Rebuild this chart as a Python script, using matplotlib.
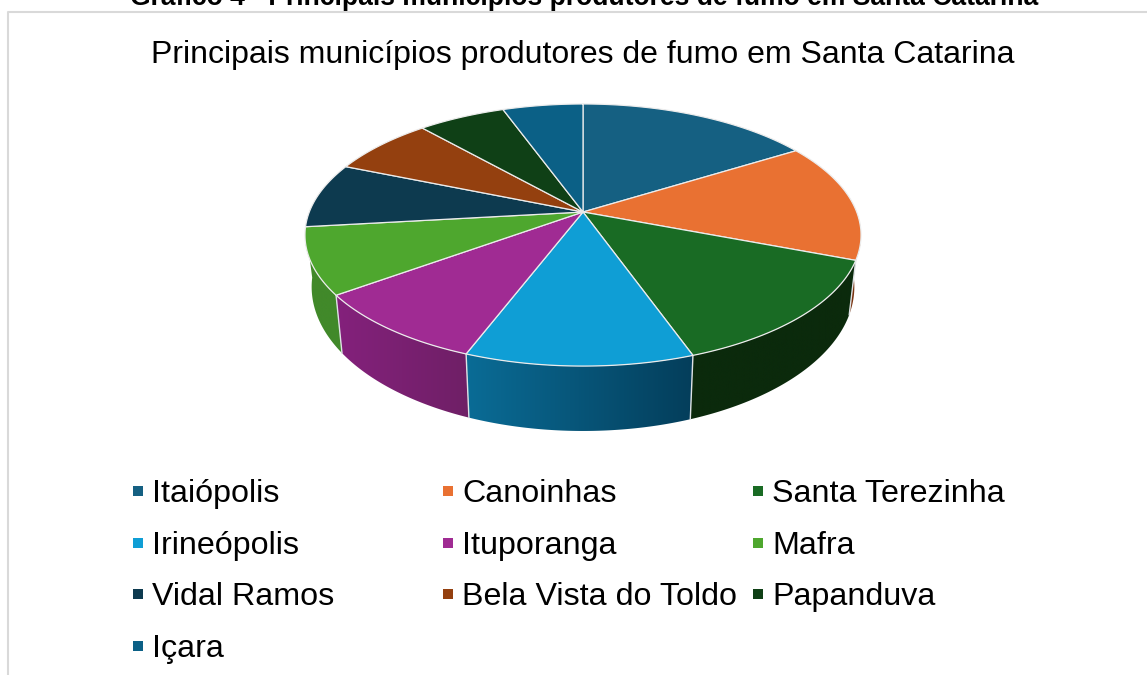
import numpy as np
import matplotlib
matplotlib.use("Agg")
import matplotlib.pyplot as plt
from matplotlib.patches import Polygon
from matplotlib.colors import LinearSegmentedColormap

plt.rcParams['font.family'] = ['Liberation Sans', 'DejaVu Sans']

# Estimated shares (%)
municipios = ["Itaiópolis", "Canoinhas", "Santa Terezinha", "Irineópolis", "Ituporanga",
              "Mafra", "Vidal Ramos", "Bela Vista do Toldo", "Papanduva", "Içara"]
valores = [16.17, 14.64, 13.75, 11.25, 9.19, 8.19, 8.03, 7.22, 6.03, 5.53]
cores = ["#156082", "#E97132", "#196B24", "#0F9ED5", "#A02B93",
         "#4EA72E", "#0D3A4F", "#94400F", "#0F4016", "#0B6086"]

# Side wall colours (left, right) for the slices that show a wall
paredes = {
    1: ("#7a3410", "#7a3410"),
    2: ("#0B2A0C", "#0B2A0C"),
    3: ("#0A6C96", "#043E5B"),
    4: ("#84217C", "#6F1F66"),
    5: ("#41892A", "#41892A"),
}

fig = plt.figure(figsize=(11.47, 6.75), dpi=100)
ax = fig.add_axes([0, 0, 1, 1])
ax.set_xlim(0, 1147)
ax.set_ylim(675, 0)
ax.axis("off")


# Perspective view of the top disc, theta clockwise from the top
def topo(theta):
    w = 1 + 0.1757 * np.cos(theta)
    return 583 + 273.7 * np.sin(theta) / w, 212 - 127 * np.cos(theta) / w


def base(theta):
    x, y = topo(theta)
    return 583 + 0.976 * (x - 583), 212 + 1.1 * (y - 212) + 49.5


limites = np.radians(np.concatenate([[0], np.cumsum(valores)]) * 360 / sum(valores))

# Walls first, the top disc goes over them
for i, (c1, c2) in paredes.items():
    ini = max(limites[i], np.radians(96))
    t = np.linspace(ini, limites[i + 1], 80)
    xt, yt = topo(t)
    xb, yb = base(t)
    pts = np.column_stack([np.r_[xt, xb[::-1]], np.r_[yt, yb[::-1]]])
    pol = Polygon(pts, closed=True, facecolor="none", edgecolor="none")
    ax.add_patch(pol)
    cmap = LinearSegmentedColormap.from_list("p", [c1, c2])
    x0, x1 = pts[:, 0].min(), pts[:, 0].max()
    y0, y1 = pts[:, 1].min(), pts[:, 1].max()
    im = ax.imshow(np.linspace(0, 1, 256).reshape(1, -1), cmap=cmap, aspect="auto",
                   extent=[x0, x1, y1, y0], zorder=2)
    im.set_clip_path(pol)

ax.set_xlim(0, 1147)
ax.set_ylim(675, 0)

# Wall separators
for i in [2, 3, 4, 5]:
    xt, yt = topo(limites[i])
    xb, yb = base(limites[i])
    ax.plot([xt, xb], [yt, yb], color="#dfe3e6", lw=1, zorder=3)

# Top slices
for i in range(len(valores)):
    t = np.linspace(limites[i], limites[i + 1], 100)
    xt, yt = topo(t)
    ax.fill(np.r_[583, xt], np.r_[212, yt], facecolor=cores[i], edgecolor="#ececec",
            lw=0.9, joinstyle="round", zorder=4)

# Chart border
ax.plot([1147, 8, 8], [12, 12, 675], color="#d9d9d9", lw=1.5, zorder=1)

# Caption cut by the top of the image, and title
ax.text(584, 5, "Gráfico 4 - Principais municípios produtores de fumo em Santa Catarina",
        fontsize=19.1, fontweight="bold", ha="center", va="baseline", color="black")
ax.text(583, 63, "Principais municípios produtores de fumo em Santa Catarina",
        fontsize=23, ha="center", va="baseline", color="black")

# Legend, filled row by row
col_x = [132, 442, 752]
lin_y = [491, 543, 594, 646]
for i, nome in enumerate(municipios):
    lx = col_x[i % 3]
    ly = lin_y[i // 3]
    ax.plot(lx + 5.5, ly, marker="s", ms=7.9, mew=0, color=cores[i], zorder=5)
    ax.text(lx + 20, ly + 11, nome, fontsize=23.2, ha="left", va="baseline", color="black")

fig.savefig("out.png", dpi=100)
